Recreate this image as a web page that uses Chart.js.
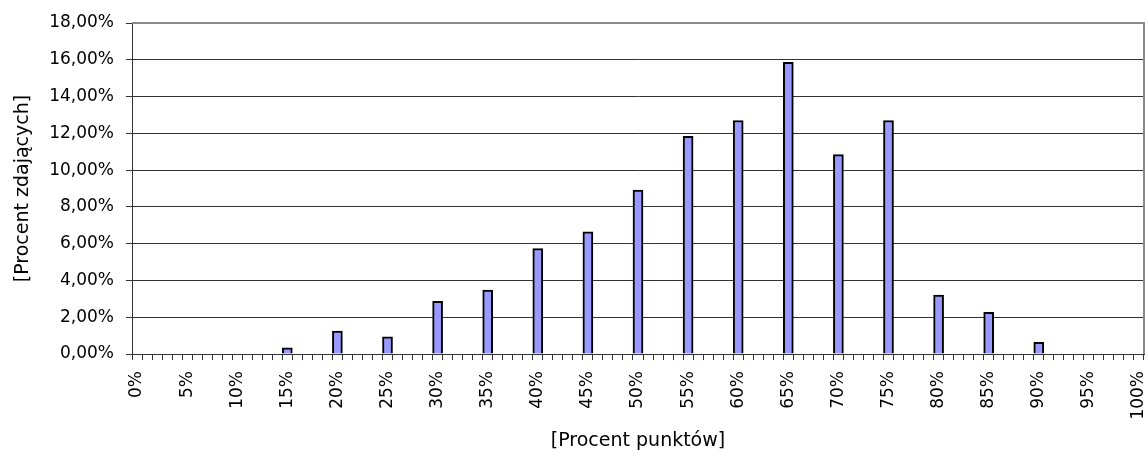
<!DOCTYPE html>
<html><head><meta charset="utf-8">
<script src="https://cdn.jsdelivr.net/npm/chart.js@4.4.1/dist/chart.umd.min.js"></script>
<style>html,body{margin:0;padding:0;background:#fff;overflow:hidden}#wrap{width:1148px;height:456px;position:relative}</style>
</head><body><div id="wrap"><canvas id="c"></canvas></div>
<script>
const categories = ['0%','1%','2%','3%','4%','5%','6%','7%','8%','9%','10%','11%','12%','13%','14%','15%','16%','17%','18%','19%','20%','21%','22%','23%','24%','25%','26%','27%','28%','29%','30%','31%','32%','33%','34%','35%','36%','37%','38%','39%','40%','41%','42%','43%','44%','45%','46%','47%','48%','49%','50%','51%','52%','53%','54%','55%','56%','57%','58%','59%','60%','61%','62%','63%','64%','65%','66%','67%','68%','69%','70%','71%','72%','73%','74%','75%','76%','77%','78%','79%','80%','81%','82%','83%','84%','85%','86%','87%','88%','89%','90%','91%','92%','93%','94%','95%','96%','97%','98%','99%','100%'];
const labeledTicks = ['0%','5%','10%','15%','20%','25%','30%','35%','40%','45%','50%','55%','60%','65%','70%','75%','80%','85%','90%','95%','100%'];
const scoreLevels = ['15%','20%','25%','30%','35%','40%','45%','50%','55%','60%','65%','70%','75%','80%','85%','90%'];
const shareOfCandidates = [0.33,1.25,0.94,2.86,3.48,5.73,6.65,8.92,11.84,12.70,15.86,10.84,12.70,3.21,2.26,0.63];
const yTickValues = [0,2,4,6,8,10,12,14,16,18];
const xAxisTitle = '[Procent punktów]';
const yAxisTitle = '[Procent zdających]';

const barData = categories.map(c => {
  const i = scoreLevels.indexOf(c);
  return i >= 0 ? shareOfCandidates[i] : null;
});

const framePlugin = {
  id: 'frame',
  afterDraw(chart) {
    const {ctx, chartArea: a} = chart;
    ctx.save();
    ctx.strokeStyle = '#8a8a8a';
    ctx.lineWidth = 2;
    ctx.beginPath();
    ctx.moveTo(a.left, a.top);
    ctx.lineTo(a.right, a.top);
    ctx.lineTo(a.right, a.bottom);
    ctx.stroke();
    ctx.restore();
  }
};

new Chart(document.getElementById('c'), {
  type: 'bar',
  data: {
    labels: categories,
    datasets: [{
      data: barData,
      backgroundColor: '#9999FF',
      borderColor: '#000',
      borderWidth: 2,
      barPercentage: 1,
      categoryPercentage: 1
    }]
  },
  options: {
    responsive: true,
    maintainAspectRatio: false,
    animation: false,
    layout: { padding: { top: 23, right: 4, left: 0, bottom: 0 } },
    plugins: { legend: { display: false }, tooltip: { enabled: false } },
    scales: {
      x: {
        offset: true,
        grid: { offset: true, drawOnChartArea: false, drawTicks: true, tickLength: 6, color: '#333', tickColor: '#333' },
        border: { color: '#333', width: 1 },
        ticks: {
          autoSkip: false, maxRotation: 90, minRotation: 90, padding: 11,
          color: '#000', font: { family: 'DejaVu Sans', size: 17 },
          callback: (v, i) => labeledTicks.includes(categories[i]) ? categories[i] : ''
        },
        title: { display: true, text: xAxisTitle, color: '#000', font: { family: 'DejaVu Sans', size: 19 }, padding: { top: 0, bottom: 4 } },
        afterFit: s => { s.height = 102; s.paddingLeft = 0; s.paddingRight = 0; }
      },
      y: {
        min: 0, max: 18,
        afterBuildTicks: s => { s.ticks = yTickValues.map(v => ({ value: v })); },
        ticks: {
          color: '#000', font: { family: 'DejaVu Sans', size: 17 }, padding: 12,
          callback: v => v.toFixed(2).replace('.', ',') + '%'
        },
        grid: { color: ctx => (ctx.tick && ctx.tick.value === 18) ? '#8a8a8a' : '#333', tickColor: '#333', tickLength: 6 },
        border: { color: '#333', width: 1 },
        title: { display: true, text: yAxisTitle, color: '#000', font: { family: 'DejaVu Sans', size: 19 }, padding: { top: 12, bottom: 0 } },
        afterFit: s => { s.width = 132; s.paddingTop = 0; s.paddingBottom = 0; }
      }
    }
  },
  plugins: [framePlugin]
});
</script>
</body></html>
